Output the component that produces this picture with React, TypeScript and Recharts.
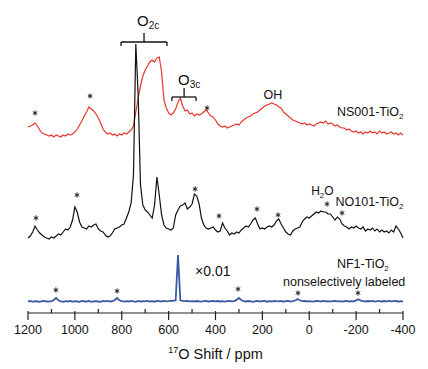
import { ComposedChart, Line, XAxis, YAxis, ReferenceDot, ReferenceLine } from "recharts";

// chemical shift grid, ppm (1200 -> -400, every 10 ppm)
const shifts: number[] = Array.from({ length: 161 }, (_, i) => 1200 - 10 * i);

// intensities above each trace's own baseline
const ns001 = [
  8, 9, 10, 12, 9, 5, 2, 1, 0, -1,
  0, -2, 0, -1, -2, 0, -1, 1, 0, 1,
  3, 6, 10, 14, 19, 23, 28, 26, 24, 21,
  17, 12, 6, 3, 1, 2, 0, 1, -1, 1,
  0, 2, 1, 3, 5, 9, 23, 37, 49, 59,
  65, 69, 73, 75, 73, 77, 78, 63, 35, 27,
  22, 20, 22, 26, 33, 37, 29, 24, 25, 21,
  22, 19, 21, 20, 21, 23, 25, 22, 19, 18,
  15, 11, 9, 8, 9, 7, 8, 9, 10, 11,
  10, 13, 15, 17, 18, 19, 21, 22, 23, 25,
  27, 29, 30, 31, 32, 31, 30, 28, 27, 23,
  21, 19, 17, 15, 14, 13, 12, 11, 12, 10,
  11, 10, 9, 11, 12, 13, 12, 14, 11, 12,
  11, 9, 10, 8, 7, 7, 5, 6, 4, 3,
  4, 2, 3, 1, 3, 2, 4, 2, 3, 1,
  4, 2, 3, 1, 2, 3, 1, 2, 0, 2,
  0,
];

const no101 = [
  -3, -1, 3, 9, 5, 2, 0, -2, -3, -4,
  -2, -3, -1, 1, 0, 3, 6, 5, 8, 15,
  28, 23, 13, 8, 7, 6, 9, 8, 10, 11,
  6, 4, 3, 0, -2, -1, 2, 6, 7, 8,
  10, 11, 17, 23, 32, 60, 191, 140, 50, 30,
  25, 23, 20, 17, 30, 58, 40, 20, 10, 7,
  6, 5, 7, 20, 25, 29, 30, 32, 26, 28,
  31, 41, 39, 31, 17, 10, 7, 6, 7, 8,
  5, 3, 4, 12, 7, 4, 0, 2, 1, 3,
  2, 5, 7, 9, 8, 11, 15, 17, 11, 6,
  7, 6, 8, 9, 8, 10, 14, 16, 11, 7,
  3, 1, 0, 4, 6, 7, 8, 13, 16, 18,
  17, 19, 21, 23, 22, 24, 23, 23, 21, 21,
  18, 15, 18, 16, 11, 9, 8, 6, 8, 7,
  9, 7, 6, 8, 4, 6, 5, 7, 4, 6,
  3, 5, 3, 4, 2, 5, 3, 9, 6, 2,
  -3,
];

const nf1 = [
  0, 0.5, -0.3, 0.4, 0, -0.4, 0.3, 0.6, 0, -0.2,
  0.4, 1.5, 3.5, 1.2, 0.2, -0.3, 0.4, 0, 0.5, -0.2,
  0.3, 0, -0.4, 0.5, 0.2, 0, 0.6, -0.3, 0.2, 0.4,
  0, -0.3, 0.5, 0.2, 0.6, 0, 0.3, 1.5, 3.5, 1.2,
  0.3, -0.2, 0.4, 0, 0.6, 0.2, -0.3, 0.5, 0, 0.4,
  0.2, 0.6, 0, 0.4, -0.2, 0.5, 0.3, 0, 0.6, 0.2,
  0.4, 0.8, 0.6, 1.2, 46.5, 1.2, 0.6, 0.3, 0.5, 0.1,
  0.4, 0, 0.5, 0.2, -0.2, 0.4, 0.6, 0, 0.3, 0.5,
  0.2, 0.5, 0, 0.4, -0.2, 0.3, 0.6, 0.2, 0.4, 1.6,
  3.5, 1.4, 0.3, 0, 0.5, 0.2, -0.3, 0.4, 0.6, 0,
  0.3, 0.5, -0.2, 0.4, 0, 0.6, 0.3, 0.1, 0.5, -0.2,
  0.3, 0.6, 0, 0.4, 1.0, 2.5, 1.2, 0.3, 0.5, 0,
  0.4, 0.2, -0.2, 0.5, 0.3, 0, 0.6, 0.2, 0.4, -0.1,
  0.3, 0.5, 0.1, 0.4, -0.2, 0.3, 0.6, 0, 0.4, 0.2,
  1.2, 2.2, 0.9, 0.3, 0, 0.5, 0.2, 0.6, -0.1, 0.3,
  0.4, 0, 0.5, 0.2, 0.6, 0.1, 0.3, 0.5, -0.2, 0.3,
  0.2,
];

// spinning sideband markers: [shift, height above baseline]
const nsStars = [[1170, 22], [935, 39], [436, 27]];
const noStars = [[1166, 17], [991, 40], [487, 46], [385, 19], [223, 26], [133, 20], [-76, 31], [-140, 22]];
const nfStars = [[1081, 11.5], [820, 10.5], [304, 12.5], [48, 8.5], [-208, 8.5]];

const xTicks = [1200, 1100, 1000, 900, 800, 700, 600, 500, 400, 300, 200, 100, 0, -100, -200, -300, -400];

// vertical stacking of the three spectra
const NS_BASE = 178;
const NO_BASE = 78;
const NF_BASE = 11.5;

const rows = shifts.map((s, i) => ({
  shift: s,
  ns001: NS_BASE + ns001[i],
  no101: NO_BASE + no101[i],
  nf1: NF_BASE + nf1[i],
}));

const FONT = "'Liberation Sans', Arial, sans-serif";
const RED = "#e8352c";
const BLACK = "#111111";
const BLUE = "#3a5aa6";

function ShiftTick(props: any) {
  const { x, y, payload } = props;
  const v = payload.value;
  const major = v % 200 === 0;
  return (
    <g>
      {major ? (
        <>
          <line x1={x} x2={x} y1={y - 2} y2={y + 7} stroke="#222" strokeWidth={1.2} />
          <text x={x} y={y + 21} textAnchor="middle" fontFamily={FONT} fontSize={12.5} fill="#111">
            {v}
          </text>
        </>
      ) : (
        <line x1={x} x2={x} y1={y - 4} y2={y} stroke="#222" strokeWidth={1.2} />
      )}
    </g>
  );
}

function AxisTitle(props: any) {
  const vb = props.viewBox || {};
  const cx = vb.x + vb.width / 2;
  const cy = vb.y + 46;
  return (
    <text x={cx} y={cy} textAnchor="middle" fontFamily={FONT} fontSize={14.5} fill="#111">
      <tspan fontSize={9} dy={-6}>17</tspan>
      <tspan dy={6}>O Shift / ppm</tspan>
    </text>
  );
}

// small six-armed asterisk
const star = (p: any) => {
  const r = 2.6;
  const d = r * 0.866;
  const h = r * 0.5;
  return (
    <path
      d={`M${p.cx},${p.cy - r}L${p.cx},${p.cy + r}M${p.cx - d},${p.cy - h}L${p.cx + d},${p.cy + h}M${p.cx - d},${p.cy + h}L${p.cx + d},${p.cy - h}`}
      stroke="#222"
      strokeWidth={1}
      fill="none"
    />
  );
};

const note = (content: any, anchor: "start" | "middle" = "start", size = 12.5) => (p: any) => (
  <text x={p.cx} y={p.cy} textAnchor={anchor} fontFamily={FONT} fontSize={size} fill="#111">
    {content}
  </text>
);

const sub = (t: string, size = 8) => (
  <tspan fontSize={size} dy={3}>
    {t}
  </tspan>
);

export default function App() {
  const brackets = [
    { from: 803, to: 607, y: 271, mid: 705 },
    { from: 586, to: 483, y: 216, mid: 534 },
  ];
  return (
    <ComposedChart width={420} height={361} data={rows} margin={{ top: 5, right: 25, bottom: 0, left: 20 }}>
      <XAxis
        dataKey="shift"
        type="number"
        domain={[-400, 1200]}
        reversed
        ticks={xTicks}
        interval={0}
        tick={<ShiftTick />}
        tickLine={false}
        tickSize={0}
        tickMargin={0}
        height={56}
        axisLine={{ stroke: "#222", strokeWidth: 1.2 }}
        label={<AxisTitle />}
      />
      <YAxis hide domain={[0, 300]} />
      <Line type="linear" dataKey="ns001" stroke={RED} strokeWidth={1.2} dot={false} isAnimationActive={false} />
      <Line type="linear" dataKey="no101" stroke={BLACK} strokeWidth={1.2} dot={false} isAnimationActive={false} />
      <Line type="linear" dataKey="nf1" stroke={BLUE} strokeWidth={1.8} dot={false} isAnimationActive={false} />

      {nsStars.map(([s, h], i) => (
        <ReferenceDot key={"ns" + i} x={s} y={NS_BASE + h} r={0} shape={star} ifOverflow="visible" />
      ))}
      {noStars.map(([s, h], i) => (
        <ReferenceDot key={"no" + i} x={s} y={NO_BASE + h} r={0} shape={star} ifOverflow="visible" />
      ))}
      {nfStars.map(([s, h], i) => (
        <ReferenceDot key={"nf" + i} x={s} y={NF_BASE + h} r={0} shape={star} ifOverflow="visible" />
      ))}

      {brackets.map((b, i) => (
        <ReferenceLine
          key={"bh" + i}
          segment={[{ x: b.from, y: b.y }, { x: b.to, y: b.y }]}
          stroke="#111"
          strokeWidth={1.3}
          ifOverflow="visible"
        />
      ))}
      {brackets.map((b, i) => (
        <ReferenceLine key={"bl" + i} segment={[{ x: b.from, y: b.y }, { x: b.from, y: b.y - 4 }]} stroke="#111" strokeWidth={1.3} ifOverflow="visible" />
      ))}
      {brackets.map((b, i) => (
        <ReferenceLine key={"br" + i} segment={[{ x: b.to, y: b.y }, { x: b.to, y: b.y - 4 }]} stroke="#111" strokeWidth={1.3} ifOverflow="visible" />
      ))}
      {brackets.map((b, i) => (
        <ReferenceLine key={"bm" + i} segment={[{ x: b.mid, y: b.y }, { x: b.mid, y: b.y + 9 }]} stroke="#111" strokeWidth={1.3} ifOverflow="visible" />
      ))}

      <ReferenceDot x={735} y={287} r={0} ifOverflow="visible" shape={note(<>O{sub("2c", 10)}</>, "start", 15)} />
      <ReferenceDot x={560} y={228} r={0} ifOverflow="visible" shape={note(<>O{sub("3c", 10)}</>, "start", 15)} />
      <ReferenceDot x={155} y={214} r={0} ifOverflow="visible" shape={note("OH", "middle", 12.5)} />
      <ReferenceDot x={-118} y={197} r={0} ifOverflow="visible" shape={note(<>NS001-TiO{sub("2")}</>)} />
      <ReferenceDot x={-8} y={118} r={0} ifOverflow="visible" shape={note(<>H{sub("2")}<tspan dy={-3}>O</tspan></>, "start", 12)} />
      <ReferenceDot x={-112} y={107} r={0} ifOverflow="visible" shape={note(<>NO101-TiO{sub("2")}</>)} />
      <ReferenceDot x={487} y={37} r={0} ifOverflow="visible" shape={note("×0.01", "start", 14)} />
      <ReferenceDot x={-118} y={45} r={0} ifOverflow="visible" shape={note(<>NF1-TiO{sub("2")}</>)} />
      <ReferenceDot x={112} y={27} r={0} ifOverflow="visible" shape={note("nonselectively labeled", "start", 12.5)} />
    </ComposedChart>
  );
}
